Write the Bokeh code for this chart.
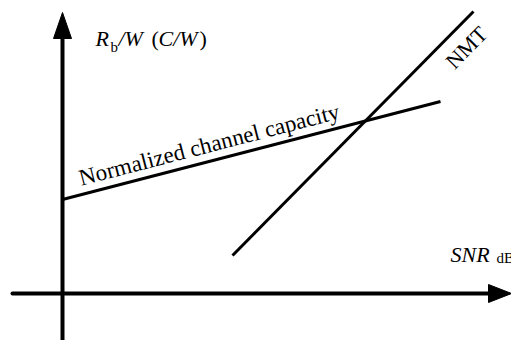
from bokeh.plotting import figure
from bokeh.models import Range1d
from bokeh.core.properties import value
from bokeh.embed import file_html
from bokeh.resources import INLINE
import math

# ---- schematic data (arbitrary units, axes cross at (62, 47)) ----
origin = (62, 47)
snr_axis_x = [12, 490]
rate_axis_y = [0, 304]
snr_arrow_tip = 511
rate_arrow_tip = 328

capacity_snr = [62, 440]
capacity_rate = [141, 239]
nmt_snr = [232, 473]
nmt_rate = [85, 329]

ylabel_parts = ["R", "b", "/W", "(", "C/W", ")"]
ylabel_x = [95, 110, 118, 151, 158, 199]
ylabel_y = [290, 286, 290, 290, 290, 290]
ylabel_style = ["italic", "normal", "italic", "normal", "italic", "normal"]
ylabel_size = ["22px", "15px", "22px", "22px", "22px", "22px"]

xlabel_parts = ["SNR", "dB"]
xlabel_x = [450, 496]
xlabel_y = [86, 83]
xlabel_style = ["italic", "normal"]
xlabel_size = ["22px", "15px"]

capacity_label = "Normalized channel capacity"
capacity_label_at = (82, 150)
nmt_label = "NMT"
nmt_label_at = (466, 293)

HEAD_LEN = 23
HEAD_HALF = 9
FONT = "Liberation Serif"

p = figure(width=511, height=340, output_backend="svg", toolbar_location=None,
           x_range=Range1d(0, 511), y_range=Range1d(0, 340),
           x_axis_type=None, y_axis_type=None, min_border=0)
p.grid.visible = False
p.outline_line_color = None

# labels (drawn first)
cap_angle = math.atan2(capacity_rate[1] - capacity_rate[0], capacity_snr[1] - capacity_snr[0])
nmt_angle = math.atan2(nmt_rate[1] - nmt_rate[0], nmt_snr[1] - nmt_snr[0])

p.text(x=[capacity_label_at[0]], y=[capacity_label_at[1]], text=[capacity_label],
       angle=cap_angle, text_font=value(FONT), text_font_size="23px",
       text_baseline="bottom")
p.text(x=[nmt_label_at[0]], y=[nmt_label_at[1]], text=[nmt_label],
       angle=nmt_angle, text_font=value(FONT), text_font_size="22px",
       text_baseline="middle", text_align="center")

for t, x, y, s, fs in zip(ylabel_parts, ylabel_x, ylabel_y, ylabel_style, ylabel_size):
    p.text(x=[x], y=[y], text=[t], text_font=value(FONT), text_font_size=fs,
           text_font_style=s, text_baseline="bottom")
for t, x, y, s, fs in zip(xlabel_parts, xlabel_x, xlabel_y, xlabel_style, xlabel_size):
    p.text(x=[x], y=[y], text=[t], text_font=value(FONT), text_font_size=fs,
           text_font_style=s, text_baseline="middle")

# axes
p.line(snr_axis_x, [origin[1], origin[1]], line_width=4, line_color="black", line_cap="round")
p.line([origin[0], origin[0]], rate_axis_y, line_width=4, line_color="black")
p.patch([snr_arrow_tip, snr_arrow_tip - HEAD_LEN, snr_arrow_tip - HEAD_LEN],
        [origin[1], origin[1] + HEAD_HALF, origin[1] - HEAD_HALF], color="black")
p.patch([origin[0], origin[0] + HEAD_HALF, origin[0] - HEAD_HALF],
        [rate_arrow_tip, rate_arrow_tip - 26, rate_arrow_tip - 26], color="black")

# curves
p.line(capacity_snr, capacity_rate, line_width=3, line_color="black")
p.line(nmt_snr, nmt_rate, line_width=3, line_color="black")

open("out.html", "w").write(file_html(p, INLINE))
